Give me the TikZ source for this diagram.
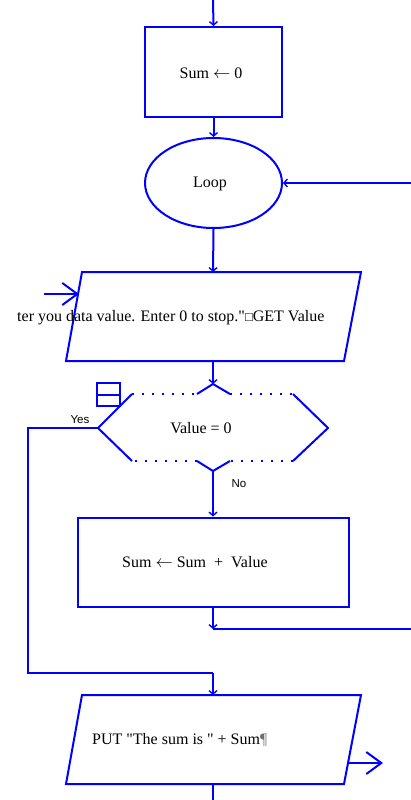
\documentclass[tikz,border=0pt]{standalone}
\usepackage{fontspec}
\setmainfont{Liberation Serif}[Ligatures=TeXOff]
\newfontfamily\labfont{Liberation Sans}
\usetikzlibrary{arrows.meta,shapes.geometric}
\definecolor{fcblue}{RGB}{0,0,255}
\definecolor{pilcrow}{RGB}{110,110,110}
\tikzset{
  ln/.style={draw=fcblue, line width=2pt},
  dotln/.style={draw=fcblue, line width=2pt, dash pattern=on 2pt off 8pt},
  sarr/.style={ln, -{Straight Barb[length=3.5pt,width=8pt,line width=1.4pt]}},
  barr/.style={ln, -{Straight Barb[length=15pt,width=22pt,line width=2pt]}},
  txt/.style={font=\fontsize{16}{19}\selectfont, text=black, inner sep=0pt},
  lab/.style={font=\labfont\fontsize{11.5}{13}\selectfont, text=black, inner sep=0pt},
  procbox/.style={ln, rectangle, minimum width=137pt, minimum height=90pt, inner sep=0pt},
  loopell/.style={ln, ellipse, minimum width=137pt, minimum height=90pt, inner sep=0pt}
}
\begin{document}
\begin{tikzpicture}[x=1pt,y=-1pt]
\useasboundingbox (0,0) rectangle (411,800);
% start
\coordinate (top) at (213,0);
\node[procbox] (init) at (213.5,72) {};
\node[txt] (initt) at (211,73) {Sum $\leftarrow$ 0};
\draw[sarr] (top) -- (init.north);
% loop
\node[loopell] (loop) at (213.5,183) {};
\node[txt] (loopt) at (210,184) {Loop};
\draw[sarr] (init.south) -- (loop.north);
\coordinate (loopin) at (411,183);
\draw[sarr] (loopin) -- (loop.east);
% input parallelogram
\coordinate (p1a) at (82,272);
\coordinate (p1b) at (361,272);
\coordinate (p1c) at (344,361);
\coordinate (p1d) at (66,361);
\coordinate (p1top) at (213,272);
\coordinate (p1bot) at (213,361);
\draw[ln, line join=miter] (p1a) -- (p1b) -- (p1c) -- (p1d) -- cycle;
\draw[sarr] (loop.south) -- (p1top);
\node[txt, anchor=west] (p1t) at (17,318) {ter you data value. Enter 0 to stop."\fontsize{13}{15}\selectfont □\fontsize{16}{19}\selectfont GET Value};
\coordinate (in1) at (44,294);
\coordinate (in1e) at (79,294);
\draw[barr] (in1) -- (in1e);
% decision hexagon
\coordinate (hL) at (98,428);
\coordinate (hTL) at (132,394);
\coordinate (hT1) at (197,394);
\coordinate (hT) at (213,384);
\coordinate (hT2) at (230,394);
\coordinate (hTR) at (293,394);
\coordinate (hR) at (328,428);
\coordinate (hBR) at (293,461);
\coordinate (hB2) at (230,461);
\coordinate (hB) at (213,471);
\coordinate (hB1) at (197,461);
\coordinate (hBL) at (132,461);
\draw[ln] (hBL) -- (hL) -- (hTL);
\draw[dotln] (hTL) -- (hT1);
\draw[ln] (hT1) -- (hT) -- (hT2);
\draw[dotln] (hT2) -- (hTR);
\draw[ln] (hTR) -- (hR) -- (hBR);
\draw[dotln] (hBR) -- (hB2);
\draw[ln] (hB2) -- (hB) -- (hB1);
\draw[dotln] (hB1) -- (hBL);
\draw[sarr] (p1bot) -- (hT);
\node[txt] (dect) at (201,428) {Value = 0};
\draw[ln] (97,383) rectangle (120,406);
\draw[ln] (97,394.5) -- (120,394.5);
% no branch
\node[ln, rectangle, minimum width=271pt, minimum height=89pt, inner sep=0pt] (add) at (213,562) {};
\node[txt, anchor=west] (addt) at (122,562) {Sum $\leftarrow$ Sum~ +~ Value};
\draw[sarr] (hB) -- (add.north);
\node[lab] (nolab) at (239,484) {No};
\coordinate (addj) at (213,629);
\coordinate (addout) at (411,629);
\draw[sarr] (add.south) -- (addj);
\draw[ln] (addj) -- (addout);
% yes branch
\coordinate (y1) at (28,428);
\coordinate (y2) at (28,673);
\coordinate (y3) at (213,673);
\coordinate (p2top) at (213,695);
\node[lab] (yeslab) at (80,420) {Yes};
\draw[ln] (hL) -- (y1) -- (y2) -- (y3);
\draw[sarr] (y3) -- (p2top);
% output parallelogram
\coordinate (p2a) at (82,695);
\coordinate (p2b) at (361,695);
\coordinate (p2c) at (344,784);
\coordinate (p2d) at (66,784);
\coordinate (p2bot) at (213,784);
\coordinate (bottom) at (213,800);
\draw[ln, line join=miter] (p2a) -- (p2b) -- (p2c) -- (p2d) -- cycle;
\node[txt, anchor=west] (p2t) at (92,740) {PUT "The sum is " + Sum{\color{pilcrow}¶}};
\coordinate (out1) at (349,763);
\coordinate (out1e) at (383,763);
\draw[barr] (out1) -- (out1e);
\draw[ln] (p2bot) -- (bottom);
\end{tikzpicture}
\end{document}
